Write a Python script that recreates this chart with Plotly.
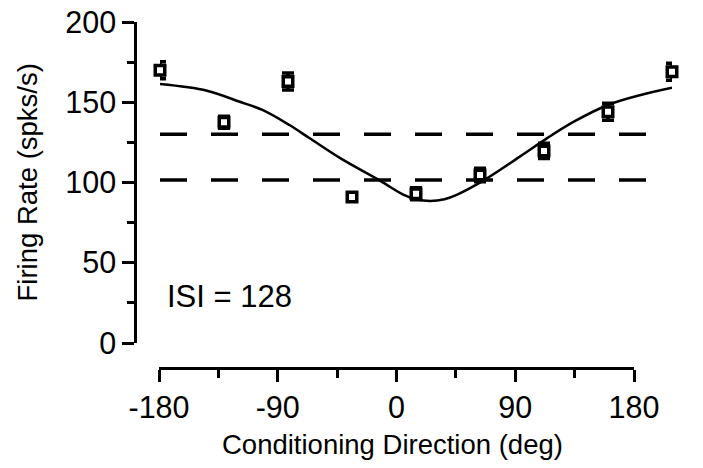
import plotly.graph_objects as go

# ---- data ----
directions = [-180, -135, -90, -45, 0, 45, 90, 135, 180]
rates = [170, 137.5, 163, 91, 93, 104.7, 119.7, 144.1, 169]
rate_err = [5.3, 3.7, 5.3, 2.5, 3.7, 4.2, 4.7, 5.3, 5.3]

fit_x = [-180, -147, -124, -108, -89, -75, -53, -25, -9, 0, 10, 20, 29, 47, 73, 92, 111, 135, 158, 180]
fit_y = [161.3, 157.2, 150.3, 145.2, 135.8, 127.7, 115, 101, 92.5, 89.6, 88.5, 89.6, 92.5, 101, 116.1, 127.5, 137.9, 148.3, 154.5, 159]

dash_levels = [130, 101.5]
dash_span = [-180, 163]

x_ticks = [-180, -90, 0, 90, 180]
x_ticktext = ["-180", "-90", "0", "90", "180"]
y_ticks = [0, 50, 100, 150, 200]
y_ticktext = ["0", "50", "100", "150", "200"]

label_text = "ISI = 128"
x_title = "Conditioning Direction (deg)"
y_title = "Firing Rate (spks/s)"

FONT = "Liberation Sans"
TICK_SIZE = 30.5
TITLE_SIZE = 27.5

fig = go.Figure()

for lvl in dash_levels:
    fig.add_trace(go.Scatter(
        x=dash_span, y=[lvl, lvl], xaxis="x2", yaxis="y", mode="lines",
        line=dict(color="black", width=3.5, dash="27px,24px"),
        showlegend=False, hoverinfo="skip"))

fig.add_trace(go.Scatter(
    x=fit_x, y=fit_y, xaxis="x2", yaxis="y", mode="lines",
    line=dict(color="black", width=2.5, shape="spline", smoothing=1.0),
    showlegend=False, hoverinfo="skip"))

fig.add_trace(go.Scatter(
    x=directions, y=rates, xaxis="x2", yaxis="y", mode="markers",
    marker=dict(symbol="square", size=9.5, color="white",
                line=dict(color="black", width=3.5)),
    error_y=dict(type="data", array=rate_err, visible=True,
                 color="black", thickness=3.5, width=6),
    cliponaxis=False, showlegend=False))

W = 703
H = 468
ml, mr, mt, mb = 135, 13, 22, 100
pw = W - ml - mr
ph = H - mt - mb

def fx(px):
    return (px - ml) / pw

def fy(py):
    return (H - mb - py) / ph

fig.update_layout(
    width=W, height=H,
    margin=dict(l=ml, r=mr, t=mt, b=mb, autoexpand=False),
    paper_bgcolor="white", plot_bgcolor="rgba(0,0,0,0)",
    font=dict(family=FONT, size=TICK_SIZE, color="black"),
    xaxis=dict(
        domain=[fx(159), fx(634)], range=[-180, 180], anchor="free", position=0,
        automargin=False,
        showgrid=False, zeroline=False, showline=True, linecolor="black", linewidth=2.5,
        ticks="outside", ticklen=12, tickwidth=2.5, tickcolor="black",
        tickvals=x_ticks, ticktext=x_ticktext,
        minor=dict(dtick=45, tick0=-180, ticks="outside", ticklen=8, tickwidth=2.5, tickcolor="black", showgrid=False),
        tickfont=dict(family=FONT, size=TICK_SIZE),
    ),
    xaxis2=dict(
        domain=[fx(160), fx(672)], range=[-180, 180], anchor="y",
        automargin=False, visible=False, showgrid=False, zeroline=False,
    ),
    yaxis=dict(
        domain=[fy(343), fy(22)], range=[0, 200], anchor="free", position=0,
        automargin=False,
        showgrid=False, zeroline=False, showline=True, linecolor="black", linewidth=2.5,
        ticks="outside", ticklen=12, tickwidth=2.5, tickcolor="black",
        tickvals=y_ticks, ticktext=y_ticktext,
        minor=dict(dtick=25, tick0=0, ticks="outside", ticklen=7, tickwidth=2.5, tickcolor="black", showgrid=False),
        tickfont=dict(family=FONT, size=TICK_SIZE),
    ),
    annotations=[
        dict(text=label_text, x=-175.5, y=28.7, xref="x", yref="y",
             xanchor="left", yanchor="middle", showarrow=False,
             font=dict(family=FONT, size=31, color="black")),
        dict(text=y_title, x=fx(27), y=100, xref="paper", yref="y",
             xanchor="center", yanchor="middle", textangle=-90, showarrow=False,
             font=dict(family=FONT, size=TITLE_SIZE, color="black")),
        dict(text=x_title, x=fx(392), y=fy(445), xref="paper", yref="paper",
             xanchor="center", yanchor="middle", showarrow=False,
             font=dict(family=FONT, size=TITLE_SIZE, color="black")),
    ],
)

fig.write_html("out.html")
